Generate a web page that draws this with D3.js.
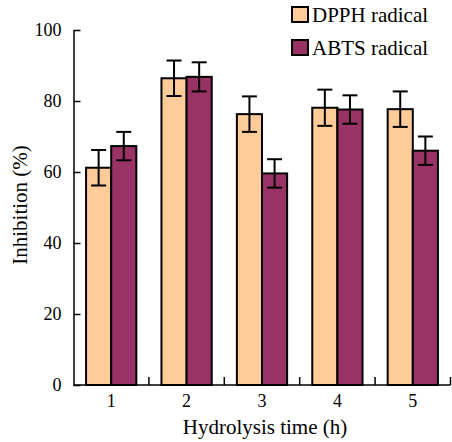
<!DOCTYPE html>
<html><head><meta charset="utf-8">
<script src="https://cdn.jsdelivr.net/npm/d3@7"></script>
<style>body{margin:0;background:#fff}svg{display:block}
svg text{font-family:"Liberation Serif","Times New Roman",Times,serif;}
</style>
</head><body>
<script>
const categories = ["1","2","3","4","5"];
const seriesNames = ["DPPH radical","ABTS radical"];
const dpph = [61.2, 86.4, 76.3, 78.1, 77.7];
const dpphErr = [5.0, 5.0, 5.0, 5.1, 5.0];
const abts = [67.3, 86.8, 59.6, 77.6, 66.0];
const abtsErr = [4.0, 4.1, 4.0, 4.0, 4.0];
const yTicks = [0,20,40,60,80,100];
const colors = ["#FFCC99","#993366"];

(function(){
const W=452,H=442;
const svg=d3.select("body").append("svg").attr("width",W).attr("height",H);
const mL=73.5,mR=450.5,mT=30,mB=385;
const x=d3.scaleBand().domain(categories).range([mL,mR]).padding(0);
const xs=d3.scaleBand().domain(seriesNames).range([0,x.bandwidth()]).paddingInner(0).paddingOuter(0.5);
const y=d3.scaleLinear().domain([0,100]).range([mB,mT]);

const data=categories.map((c,i)=>({c,vals:[{s:seriesNames[0],v:dpph[i],e:dpphErr[i]},{s:seriesNames[1],v:abts[i],e:abtsErr[i]}]}));

const g=svg.append("g");
const grp=g.selectAll("g.cat").data(data).join("g").attr("class","cat").attr("transform",d=>`translate(${x(d.c)},0)`);
grp.selectAll("rect").data(d=>d.vals).join("rect")
 .attr("x",d=>xs(d.s)).attr("width",xs.bandwidth())
 .attr("y",d=>y(d.v)).attr("height",d=>y(0)-y(d.v))
 .attr("fill",(d,i)=>colors[i]).attr("stroke","#000").attr("stroke-width",2);
const eb=grp.selectAll("g.eb").data(d=>d.vals).join("g").attr("class","eb").attr("stroke","#000").attr("stroke-width",2);
eb.append("line").attr("x1",d=>xs(d.s)+xs.bandwidth()/2).attr("x2",d=>xs(d.s)+xs.bandwidth()/2)
 .attr("y1",d=>y(d.v+d.e)).attr("y2",d=>y(d.v-d.e));
[1,-1].forEach(k=>{
 eb.append("line").attr("x1",d=>xs(d.s)+xs.bandwidth()/2-7.5).attr("x2",d=>xs(d.s)+xs.bandwidth()/2+7.5)
  .attr("y1",d=>y(d.v+k*d.e)).attr("y2",d=>y(d.v+k*d.e));
});

// y axis
const ya=svg.append("g").attr("transform",`translate(${mL},0)`)
 .call(d3.axisLeft(y).tickValues(yTicks).tickSizeInner(-7).tickSizeOuter(0).tickPadding(12));
ya.attr("font-family",null);
ya.select(".domain").attr("stroke","#000").attr("stroke-width",1.5);
ya.selectAll(".tick line").attr("stroke","#000").attr("stroke-width",1.5);
ya.selectAll(".tick text").attr("font-size",18).attr("fill","#000");

// x axis
const bounds=categories.map(c=>x(c)+x.bandwidth());
const xa=svg.append("g").attr("transform",`translate(0,${mB})`);
xa.append("line").attr("x1",mL).attr("x2",mR).attr("stroke","#000").attr("stroke-width",1.5);
xa.selectAll("line.tk").data(bounds).join("line").attr("class","tk").attr("x1",d=>d).attr("x2",d=>d).attr("y1",0).attr("y2",-8).attr("stroke","#000").attr("stroke-width",1.5);
xa.selectAll("text").data(categories).join("text").attr("x",d=>x(d)+x.bandwidth()/2).attr("y",22)
 .attr("text-anchor","middle").attr("font-size",18).text(d=>d);

svg.append("text").attr("x",(mL+mR)/2+3).attr("y",434).attr("text-anchor","middle")
 .attr("font-size",21).text("Hydrolysis time (h)");
svg.append("text").attr("transform","translate(27,205) rotate(-90)").attr("text-anchor","middle")
 .attr("font-size",21).text("Inhibition (%)");

// legend
const lg=svg.append("g").selectAll("g").data(seriesNames).join("g").attr("transform",(d,i)=>`translate(292,${7+i*33})`);
lg.append("rect").attr("width",16).attr("height",15).attr("fill",(d,i)=>colors[i]).attr("stroke","#000").attr("stroke-width",2);
lg.append("text").attr("x",20).attr("y",15).attr("font-size",21).text(d=>d);
})();
</script>
</body></html>
